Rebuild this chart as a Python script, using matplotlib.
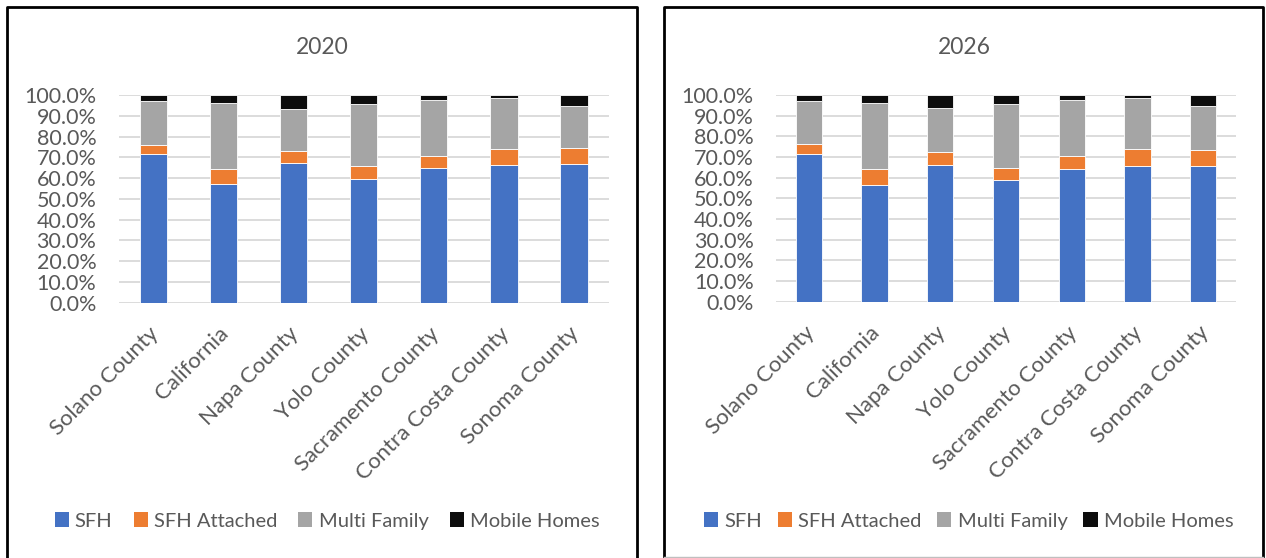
import numpy as np
import matplotlib.pyplot as plt
import matplotlib.transforms as mtransforms
from matplotlib.lines import Line2D
from matplotlib.patches import Patch
from matplotlib.ticker import PercentFormatter

plt.rcParams['font.family'] = ['Lato', 'DejaVu Sans']

places = ['Solano County', 'California', 'Napa County', 'Yolo County',
          'Sacramento County', 'Contra Costa County', 'Sonoma County']
series = ['SFH', 'SFH Attached', 'Multi Family', 'Mobile Homes']
colors = ['#4472C4', '#ED7D31', '#A5A5A5', '#0D0D0D']

# housing mix shares (%), 2020
sfh_2020 = [71.7, 57.1, 67.4, 59.7, 64.7, 66.3, 66.9]
att_2020 = [4.4, 7.3, 5.8, 6.3, 6.1, 7.8, 7.4]
mf_2020 = [21.0, 31.8, 20.1, 29.5, 26.6, 24.3, 20.3]
mh_2020 = [2.9, 3.8, 6.7, 4.5, 2.6, 1.6, 5.4]

# housing mix shares (%), 2026
sfh_2026 = [71.6, 56.6, 66.1, 59.0, 64.3, 65.8, 65.5]
att_2026 = [4.5, 7.5, 6.5, 5.8, 6.3, 8.2, 8.0]
mf_2026 = [21.1, 32.2, 21.0, 31.0, 27.0, 24.4, 21.4]
mh_2026 = [2.8, 3.7, 6.4, 4.2, 2.4, 1.6, 5.1]

W, H = 1266, 558
fig = plt.figure(figsize=(W / 100, H / 100), dpi=100)
grey_txt = '#595959'


def px_axes(x0, x1, ytop, ybot):
    return fig.add_axes([x0 / W, (H - ybot) / H, (x1 - x0) / W, (ybot - ytop) / H])


def draw(ax, data, width):
    x = np.arange(len(places))
    bottom = np.zeros(len(places))
    for vals, c in zip(data, colors):
        v = np.array(vals) / 100
        ax.bar(x, v, width, bottom=bottom, color=c, edgecolor='white',
               linewidth=0.6, zorder=3)
        bottom += v
    ax.set_ylim(0, 1)
    ax.set_xlim(-0.5, len(places) - 0.5)
    ax.set_yticks(np.arange(0, 1.01, 0.1))
    ax.yaxis.set_major_formatter(PercentFormatter(1.0, decimals=1))
    ax.set_xticks(x)
    ax.set_xticklabels(places, rotation=45, ha='right', rotation_mode='anchor')
    ax.tick_params(axis='y', length=0, labelsize=15.5, colors=grey_txt, pad=16)
    ax.tick_params(axis='x', length=0, labelsize=16, colors=grey_txt, pad=15)
    # nudge the slanted labels so their ends sit under the bars
    shift = mtransforms.ScaledTranslation(-0.05, 0, fig.dpi_scale_trans)
    for lab in ax.get_xticklabels():
        lab.set_transform(lab.get_transform() + shift)
    ax.grid(axis='y', color='#D9D9D9', linewidth=1.3, zorder=0)
    for s in ax.spines.values():
        s.set_visible(False)


ax1 = px_axes(118.5, 609, 95, 302.7)
draw(ax1, [sfh_2020, att_2020, mf_2020, mh_2020], 0.39)
ax2 = px_axes(776, 1236, 95, 301.7)
draw(ax2, [sfh_2026, att_2026, mf_2026, mh_2026], 0.40)

fig.text(322 / W, (H - 47) / H, '2020', ha='center', va='center',
         fontsize=16.5, color=grey_txt)
fig.text(964 / W, (H - 47) / H, '2026', ha='center', va='center',
         fontsize=16.5, color=grey_txt)

handles = [Patch(facecolor=c, edgecolor='none') for c in colors]
for cx, spacing in ((327, 1.05), (968.5, 0.8)):
    fig.legend(handles, series, loc='center', bbox_to_anchor=(cx / W, (H - 521) / H),
               ncol=4, frameon=False, fontsize=14.5, labelcolor=grey_txt,
               handlelength=0.7, handleheight=0.7, handletextpad=0.3,
               columnspacing=spacing)

# chart borders
def px_line(xs, ys, color='black', lw=2):
    fig.add_artist(Line2D([v / W for v in xs], [(H - v) / H for v in ys],
                          color=color, linewidth=lw))

px_line([6.5, 6.5, 636.5, 636.5], [560, 6.5, 6.5, 560])
px_line([663.5, 663.5, 1263, 1263], [557, 6.5, 6.5, 557])
px_line([664, 1263], [556.5, 556.5], color='#BFBFBF', lw=1)

fig.savefig('out.png', dpi=100)
